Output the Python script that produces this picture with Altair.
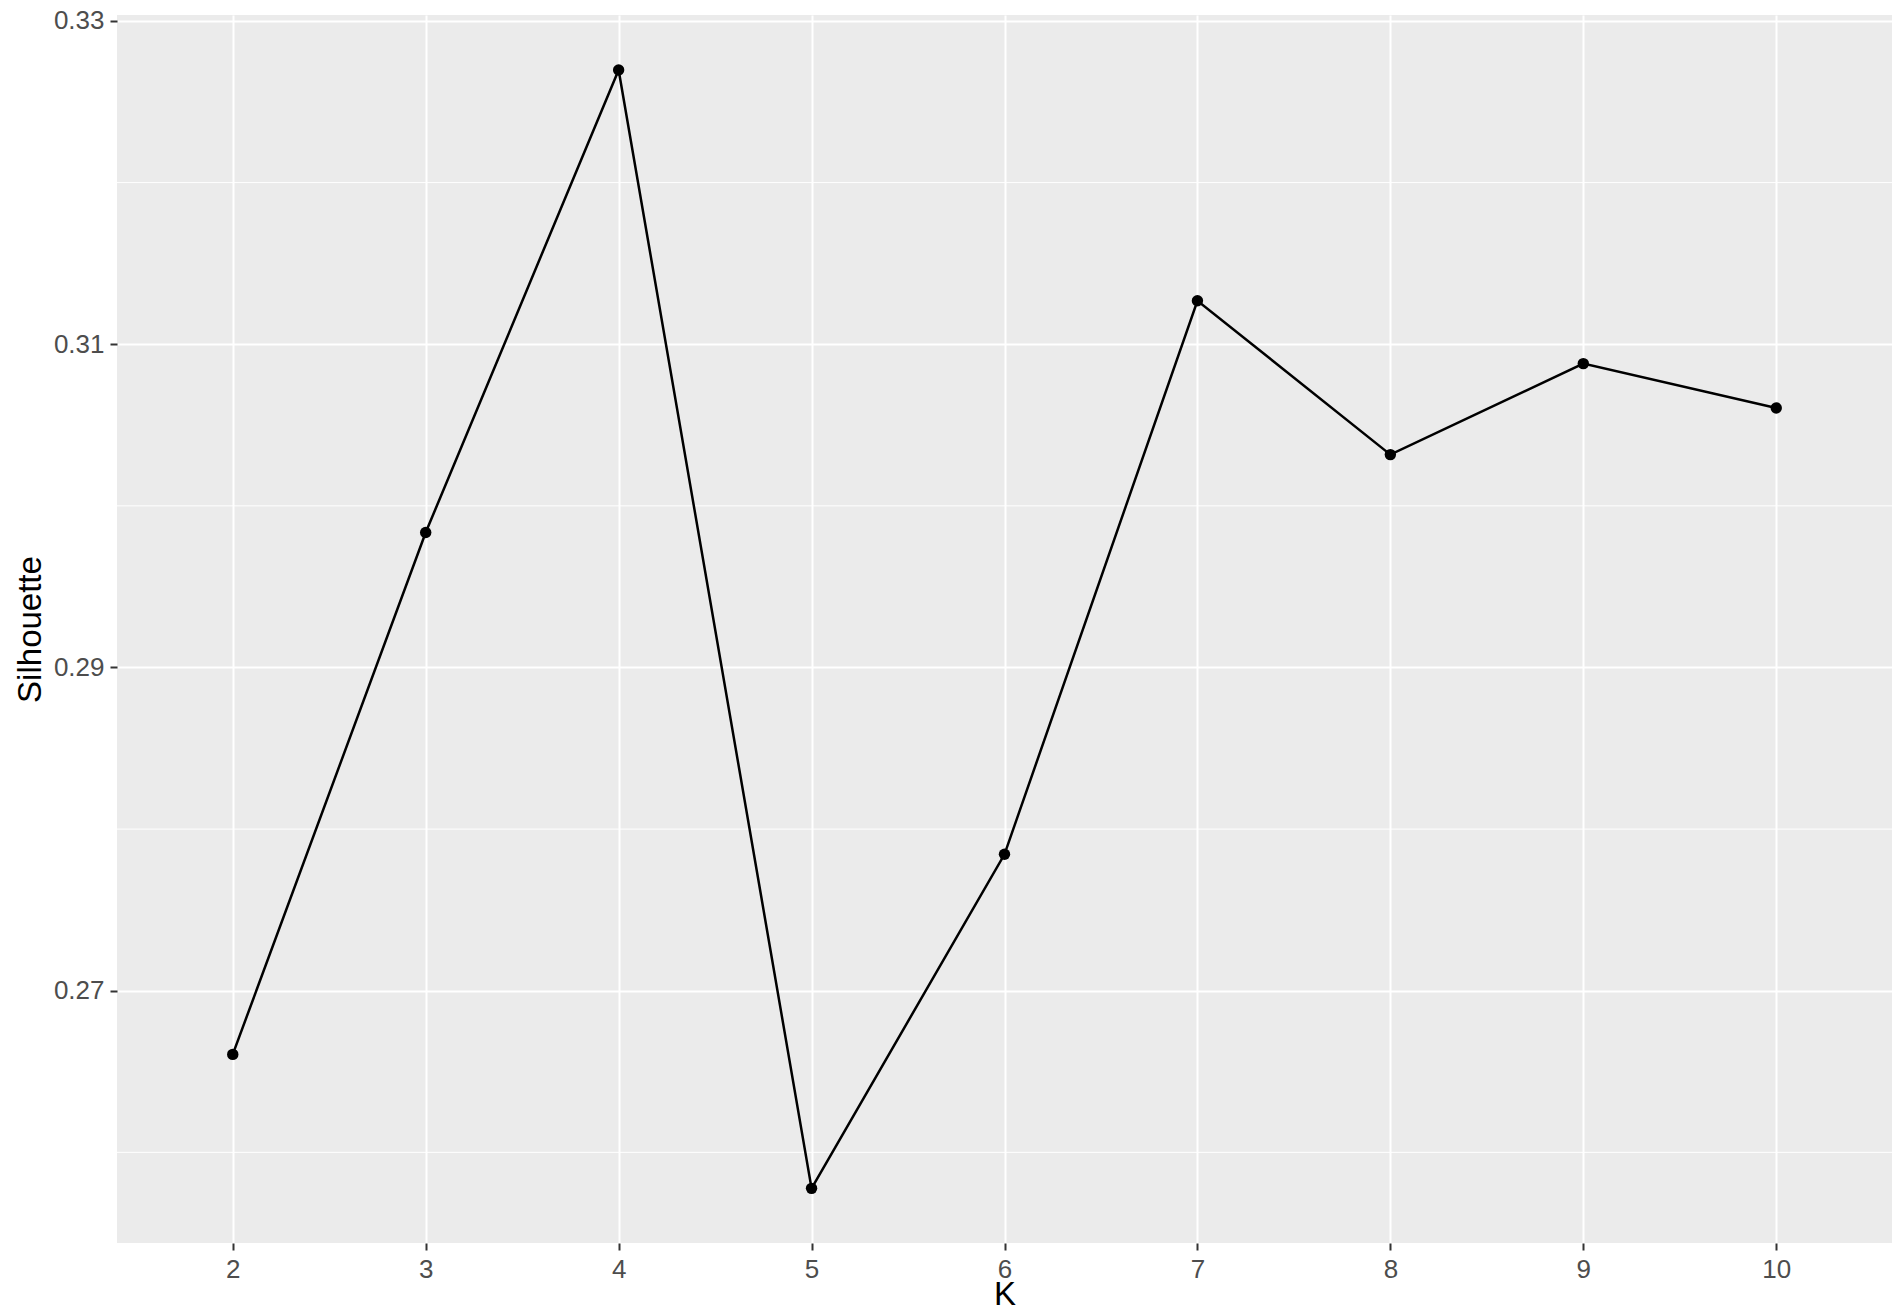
import altair as alt
import pandas as pd

k_values = [2, 3, 4, 5, 6, 7, 8, 9, 10]
silhouette = [0.26606, 0.29835, 0.32697, 0.25777, 0.27844, 0.31269, 0.30317, 0.30880, 0.30605]
y_major = [0.27, 0.29, 0.31, 0.33]
y_minor = [0.26, 0.28, 0.30, 0.32]

df = pd.DataFrame({"K": k_values, "Silhouette": silhouette})
minor_df = pd.DataFrame({"v": y_minor})

FONT = "Liberation Sans"

xscale = alt.Scale(domain=[1.4, 10.6], nice=False, zero=False)
yscale = alt.Scale(domain=[0.25439, 0.33037], nice=False, zero=False)

xaxis = alt.Axis(values=k_values, format="d", title="K", grid=True)
yaxis = alt.Axis(values=y_major, format=".2f", title="Silhouette", grid=True)

minor = alt.Chart(minor_df).mark_rule(color="white", strokeWidth=1).encode(
    y=alt.Y("v:Q", scale=yscale, axis=yaxis)
)

line = alt.Chart(df).mark_line(color="black", strokeWidth=2.5).encode(
    x=alt.X("K:Q", scale=xscale, axis=xaxis),
    y=alt.Y("Silhouette:Q", scale=yscale, axis=yaxis),
)

points = alt.Chart(df).mark_circle(color="black", size=130, opacity=1).encode(
    x=alt.X("K:Q", scale=xscale, axis=xaxis),
    y=alt.Y("Silhouette:Q", scale=yscale, axis=yaxis),
)

chart = (
    alt.layer(minor, line, points)
    .properties(
        width=1775,
        height=1228,
        autosize=alt.AutoSizeParams(type="none"),
        padding={"left": 109, "top": 7, "right": 1, "bottom": 64},
        background="white",
    )
    .configure_view(fill="#EBEBEB", stroke=None)
    .configure_axis(
        domain=False,
        gridColor="white",
        gridWidth=2,
        tickColor="#333333",
        tickWidth=2,
        tickSize=7,
        labelFont=FONT,
        labelFontSize=26,
        labelColor="#4D4D4D",
        labelPadding=6,
        titleFont=FONT,
        titleFontSize=33,
        titleFontWeight="normal",
        titleColor="black",
    )
    .configure_axisX(titlePadding=-4)
    .configure_axisY(titlePadding=6)
)

chart.save("out.html", embed_options={"renderer": "svg", "actions": False})
